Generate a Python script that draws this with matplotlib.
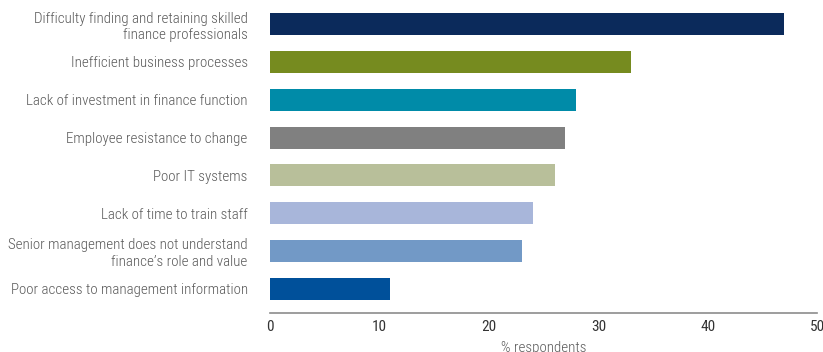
import matplotlib.pyplot as plt
from matplotlib import font_manager

# Dados do gráfico
categorias = [
    "Difficulty finding and retaining skilled\nfinance professionals",
    "Inefficient business processes",
    "Lack of investment in finance function",
    "Employee resistance to change",
    "Poor IT systems",
    "Lack of time to train staff",
    "Senior management does not understand\nfinance\u2019s role and value",
    "Poor access to management information",
]
valores = [47, 33, 28, 27, 26, 24, 23, 11]
cores = ["#0b2a5b", "#768b1f", "#008ba8", "#808080",
         "#b8bf9a", "#a8b6da", "#7299c6", "#00509a"]
ticks_x = [0, 10, 20, 30, 40, 50]

# Fonte estreita, se houver
nomes = {f.name for f in font_manager.fontManager.ttflist}
for cand in ["Roboto Condensed", "Archivo Narrow", "Barlow Condensed", "Asap Condensed"]:
    if cand in nomes:
        plt.rcParams["font.family"] = [cand, "DejaVu Sans"]
        break

fig = plt.figure(figsize=(8.23, 3.52), dpi=100)
ax = fig.add_axes([0.328, 0.111, 0.665, 0.889])

pos = list(range(len(categorias)))
ax.barh(pos, valores, height=0.58, color=cores)
ax.set_ylim(len(categorias) - 0.36, -0.64)
ax.set_xlim(0, 50)
ax.set_xticks(ticks_x)
ax.set_yticks(pos)
ax.set_yticklabels(categorias, fontsize=10.8, color="#595959", linespacing=1.2,
                   fontweight="light")
ax.tick_params(axis="y", length=0, pad=16)
ax.tick_params(axis="x", length=0, pad=5, labelsize=11, labelcolor="#333333")
ax.set_xlabel("% respondents", fontsize=10.8, color="#595959", labelpad=5,
              fontweight="light")

for s in ["top", "right", "left"]:
    ax.spines[s].set_visible(False)
ax.spines["bottom"].set_color("#8c8c8c")
ax.spines["bottom"].set_linewidth(1.2)

fig.savefig("out.png", dpi=100)
